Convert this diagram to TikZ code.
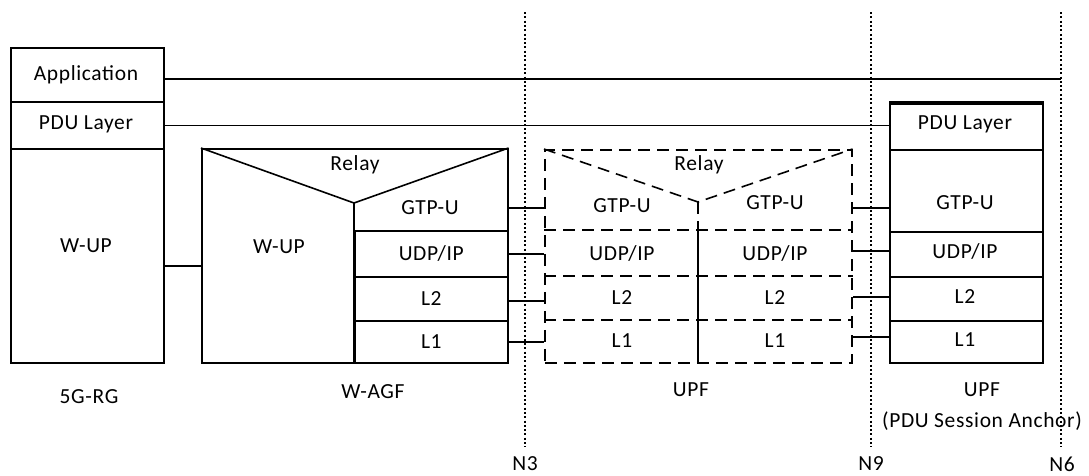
\documentclass[tikz,border=0pt]{standalone}
\usepackage{fontspec}
\setmainfont[LetterSpace=3]{Carlito}
\begin{document}
\begin{tikzpicture}[x=1pt,y=-1pt, line width=1.6pt,
  box/.style={draw, rectangle, inner sep=0pt, anchor=north west},
  lbl/.style={font=\fontsize{21.5}{25}\selectfont, inner sep=0pt},
  dsh/.style={dash pattern=on 12pt off 7pt},
  dotline/.style={line width=2pt, dash pattern=on 2pt off 2.3pt},
  conn/.style={line width=1.6pt}]
\useasboundingbox (0,0) rectangle (1089,475);

% reference points (interfaces)
\coordinate (n3t) at (525,12);  \coordinate (n3b) at (525,447);
\coordinate (n9t) at (871,12);  \coordinate (n9b) at (871,447);
\coordinate (n6t) at (1061,12); \coordinate (n6b) at (1061,447);
\draw[dotline] (n3t) -- (n3b);
\draw[dotline] (n9t) -- (n9b);
\draw[dotline] (n6t) -- (n6b);
\node[lbl] (ln3) at (525,464) {N3};
\node[lbl] (ln9) at (871,464) {N9};
\node[lbl] (ln6) at (1062,464) {N6};

% 5G-RG
\node[box, minimum width=153pt, minimum height=54pt] (app) at (10,47) {};
\node[box, minimum width=153pt, minimum height=47pt] (pdu) at (10,101) {};
\node[box, minimum width=153pt, minimum height=214pt] (rgwup) at (10,148) {};
\node[lbl] (tapp) at (86,75) {Application};
\node[lbl] (tpdu) at (86,124) {PDU Layer};
\node[lbl] (trgwup) at (86,246) {W-UP};
\node[lbl] (lrg) at (89,397) {5G-RG};

% W-AGF
\node[box, minimum width=306pt, minimum height=214pt] (wagf) at (201,148) {};
\coordinate (wapex) at (354,203);
\draw (wagf.north west) -- (wapex) -- (wagf.north east);
\draw (wapex) -- (wapex |- wagf.south);
\node[box, minimum width=153pt, minimum height=46pt] (wudp) at (354,230) {};
\node[box, minimum width=153pt, minimum height=44pt] (wl2) at (354,276) {};
\node[box, minimum width=153pt, minimum height=42pt] (wl1) at (354,320) {};
\node[lbl] (twrelay) at (355,165) {Relay};
\node[lbl] (twwup) at (279,247) {W-UP};
\node[lbl] (wgtp) at (430,208) {GTP-U};
\node[lbl] at (wudp.center) {UDP/IP};
\node[lbl] at (wl2.center) {L2};
\node[lbl] at (wl1.center) {L1};
\node[lbl] (lwagf) at (373,392) {W-AGF};

% UPF (dashed)
\node[box, dsh, minimum width=307pt, minimum height=213pt] (upf) at (544,149) {};
\coordinate (uapex) at (698,202);
\draw[dsh] (upf.north west) -- (uapex) -- (upf.north east);
\draw[dsh] (uapex) -- (uapex |- 0,230);
\draw (uapex |- 0,230) -- (uapex |- upf.south);
\draw[dsh] (upf.west |- 0,230) -- (upf.east |- 0,230);
\draw[dsh] (upf.west |- 0,276) -- (upf.east |- 0,276);
\draw[dsh] (upf.west |- 0,320) -- (upf.east |- 0,320);
\node[lbl] (turelay) at (699,165) {Relay};
\node[lbl] at (622,206) {GTP-U};
\node[lbl] at (775,203) {GTP-U};
\node[lbl] at (622,253) {UDP/IP};
\node[lbl] at (775,253) {UDP/IP};
\node[lbl] at (622,298) {L2};
\node[lbl] at (775,298) {L2};
\node[lbl] at (622,341) {L1};
\node[lbl] at (775,341) {L1};
\node[lbl] (lupf) at (691,390) {UPF};

% UPF (PDU Session Anchor)
\node[box, minimum width=153pt, minimum height=46pt] (apdu) at (889,103) {};
\node[box, minimum width=153pt, minimum height=82pt] (agtp) at (889,149) {};
\node[box, minimum width=153pt, minimum height=45pt] (audp) at (889,231) {};
\node[box, minimum width=153pt, minimum height=44pt] (al2) at (889,276) {};
\node[box, minimum width=153pt, minimum height=42pt] (al1) at (889,320) {};
\draw[line width=3.2pt] (apdu.north west) -- (apdu.north east);
\node[lbl] at (965,124) {PDU Layer};
\node[lbl] at (965,203) {GTP-U};
\node[lbl] at (965,251) {UDP/IP};
\node[lbl] at (965,297) {L2};
\node[lbl] at (965,340) {L1};
\node[lbl] (lanc1) at (982,390) {UPF};
\node[lbl] (lanc2) at (982,421) {(PDU Session Anchor)};

% connectors
\draw[conn] ([yshift=-4pt]app.east) -- ([yshift=-4pt]app.east -| n6t);
\draw[conn] (pdu.east) -- (pdu.east -| apdu.west);
\draw[conn] ([yshift=-10pt]rgwup.east) -- ([yshift=-10pt]rgwup.east -| wagf.west);
\draw[conn] (wgtp.center -| wagf.east) -- (wgtp.center -| upf.west);
\draw[conn] (wudp.east) -- (wudp.east -| upf.west);
\draw[conn] ([yshift=-2pt]wl2.east) -- ([yshift=-2pt]wl2.east -| upf.west);
\draw[conn] (wl1.east) -- (wl1.east -| upf.west);
\draw[conn] ([yshift=-17pt]agtp.west) -- ([yshift=-17pt]agtp.west -| upf.east);
\draw[conn] ([yshift=3.5pt]audp.west) -- ([yshift=3.5pt]audp.west -| upf.east);
\draw[conn] ([yshift=2pt]al2.west) -- ([yshift=2pt]al2.west -| upf.east);
\draw[conn] ([yshift=5pt]al1.west) -- ([yshift=5pt]al1.west -| upf.east);
\end{tikzpicture}
\end{document}
